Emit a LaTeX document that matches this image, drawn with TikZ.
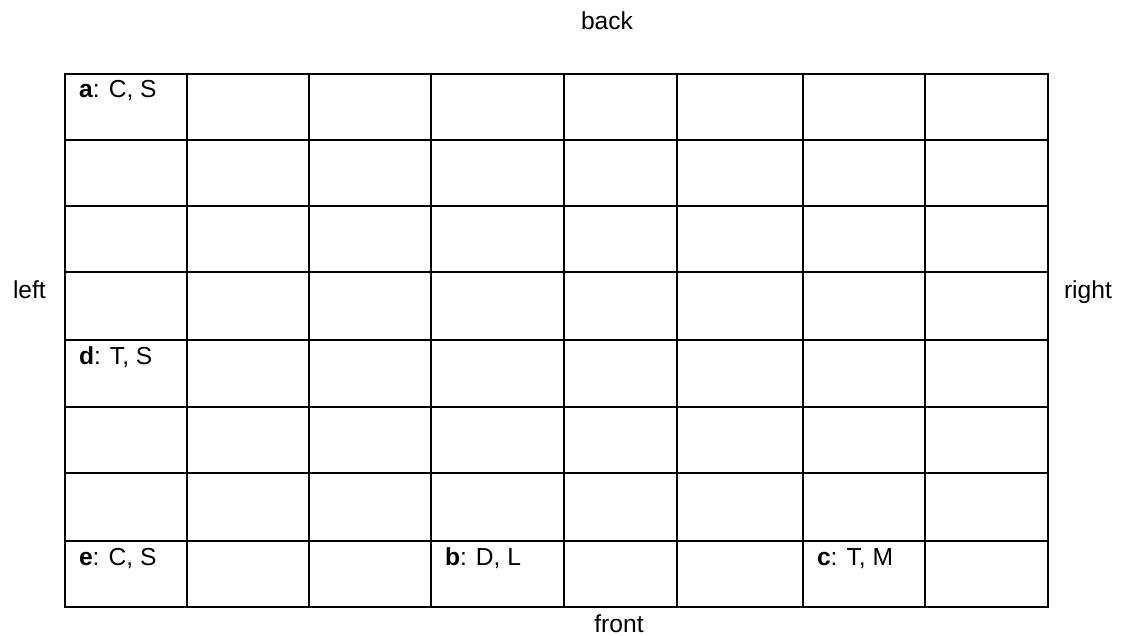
\documentclass[tikz,border=0pt]{standalone}
\usepackage{fontspec}
\setmainfont{Liberation Sans}

\begin{document}
\begin{tikzpicture}[x=0.5pt,y=-0.5pt,line width=1pt,line cap=rect,
    font=\fontsize{12.3}{14}\selectfont,
    tag/.style={anchor=base west,inner sep=0pt},
    side/.style={anchor=base,inner sep=0pt}]
  \useasboundingbox (0,0) rectangle (1123,636);
  % the grid
  \foreach \x in {65,187,309,431,564,677,803,925,1048}
    \draw (\x,74) -- (\x,607);
  \foreach \y in {74,140,206,272,340,407,473,541,607}
    \draw (65,\y) -- (1048,\y);
  % sides
  \node[side] (back) at (607,30) {back};
  \node[side] (front) at (619,632) {front};
  \node[tag] (left) at (12,298) {left};
  \node[tag] (right) at (1063,298) {right};
  % cells
  \node[tag] (a) at (78,98) {\textbf{a}: C, S};
  \node[tag] (d) at (78,364) {\textbf{d}: T, S};
  \node[tag] (e) at (78,565) {\textbf{e}: C, S};
  \node[tag] (b) at (444,565) {\textbf{b}: D, L};
  \node[tag] (c) at (816,565) {\textbf{c}: T, M};
\end{tikzpicture}
\end{document}
